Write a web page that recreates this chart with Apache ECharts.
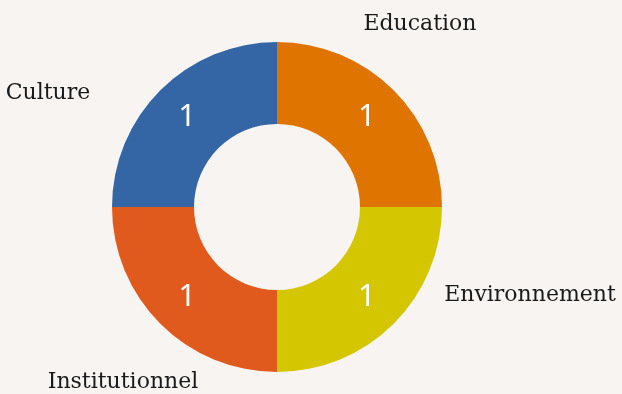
<!DOCTYPE html>
<html>
<head>
<meta charset="utf-8">
<script src="https://cdn.jsdelivr.net/npm/echarts@6/dist/echarts.min.js"></script>
<style>
  html, body { margin: 0; padding: 0; background: #f7f4f1; }
  #chart { width: 622px; height: 394px; }
</style>
</head>
<body>
<div id="chart"></div>
<script>
// data
var categories = ['Education', 'Environnement', 'Institutionnel', 'Culture'];
var values = [1, 1, 1, 1];
var colors = ['#e07400', '#d4c600', '#e05a1e', '#3465a4'];
// where the category names sit (px)
var namePos = [[420, 24], [530, 295], [123, 382], [48, 93]];

var pieData = categories.map(function (c, i) {
  return { name: c, value: values[i] };
});

var myChart = echarts.init(document.getElementById('chart'));
var option = {
  backgroundColor: '#f7f4f1',
  color: colors,
  series: [
    {
      type: 'pie',
      center: [277, 207],
      radius: [83, 165],
      startAngle: 90,
      clockwise: true,
      silent: true,
      itemStyle: { borderWidth: 0 },
      label: {
        show: true,
        position: 'inside',
        formatter: '{c}',
        color: '#ffffff',
        fontSize: 31,
        fontFamily: 'Noto Sans',
        fontWeight: 'normal'
      },
      labelLine: { show: false },
      data: pieData
    },
    {
      type: 'pie',
      center: [277, 207],
      radius: [83, 165],
      startAngle: 90,
      silent: true,
      itemStyle: { color: 'transparent' },
      label: {
        show: true,
        position: 'outside',
        formatter: '{b}',
        color: '#1a1a1a',
        fontSize: 22,
        fontFamily: 'DejaVu Serif',
        overflow: 'none',
        width: 300
      },
      labelLine: { show: false },
      labelLayout: function (params) {
        var p = namePos[params.dataIndex];
        return { x: p[0], y: p[1], align: 'center', verticalAlign: 'middle' };
      },
      data: pieData
    }
  ]
};
myChart.setOption(option);
</script>
</body>
</html>
